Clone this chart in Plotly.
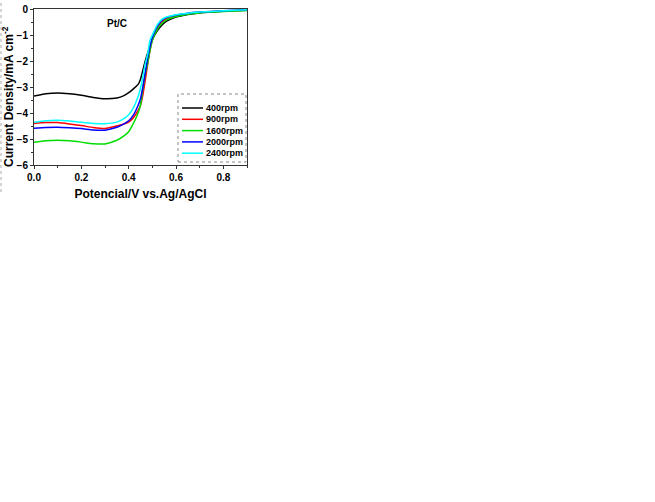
import plotly.graph_objects as go

# potential (V vs Ag/AgCl)
potential = [0.00, 0.05, 0.10, 0.15, 0.20, 0.25, 0.30, 0.35, 0.38, 0.40, 0.42, 0.44, 0.45,
             0.46, 0.47, 0.48, 0.49, 0.50, 0.52, 0.54, 0.56, 0.60, 0.65, 0.70, 0.80, 0.90]

# current density (mA cm-2) for each rotation speed
j_400 = [-3.35, -3.26, -3.23, -3.26, -3.32, -3.40, -3.45, -3.42, -3.33, -3.22, -3.07, -2.90, -2.70,
         -2.35, -2.00, -1.70, -1.42, -1.18, -0.85, -0.62, -0.47, -0.31, -0.21, -0.15, -0.09, -0.05]
j_900 = [-4.40, -4.37, -4.37, -4.42, -4.48, -4.56, -4.60, -4.50, -4.42, -4.35, -4.18, -3.90, -3.70,
         -3.30, -2.75, -2.15, -1.60, -1.20, -0.75, -0.50, -0.37, -0.26, -0.18, -0.13, -0.08, -0.04]
j_1600 = [-5.13, -5.07, -5.05, -5.07, -5.12, -5.18, -5.19, -5.05, -4.88, -4.72, -4.40, -4.00, -3.70,
          -3.05, -2.50, -2.10, -1.60, -1.20, -0.80, -0.56, -0.42, -0.29, -0.20, -0.15, -0.10, -0.06]
j_2000 = [-4.59, -4.56, -4.55, -4.57, -4.60, -4.65, -4.66, -4.55, -4.42, -4.30, -4.08, -3.70, -3.45,
          -3.00, -2.45, -1.90, -1.45, -1.10, -0.68, -0.44, -0.33, -0.23, -0.16, -0.12, -0.07, -0.03]
j_2400 = [-4.36, -4.30, -4.28, -4.31, -4.36, -4.40, -4.41, -4.35, -4.22, -4.07, -3.80, -3.37, -3.05,
          -2.60, -2.10, -1.75, -1.20, -1.00, -0.62, -0.40, -0.31, -0.22, -0.16, -0.12, -0.07, -0.03]

series = [("400rpm", j_400, "black"),
          ("900rpm", j_900, "red"),
          ("1600rpm", j_1600, "#00dd00"),
          ("2000rpm", j_2000, "blue"),
          ("2400rpm", j_2400, "cyan")]

fig = go.Figure()
for name, vals, color in series:
    fig.add_trace(go.Scatter(x=potential, y=vals, name=name, mode="lines", showlegend=False,
                             line=dict(color=color, width=1.5, shape="spline", smoothing=0.6)))

axis_font = dict(family="Arial", size=10, color="black", weight="bold")
title_font = dict(family="Arial", size=12, color="black", weight="bold")

fig.update_xaxes(range=[0, 0.9], dtick=0.2, tickformat=".1f", automargin=False,
                 showline=True, linecolor="#333", linewidth=1, mirror=True,
                 ticks="outside", ticklen=3, tickcolor="#333",
                 minor=dict(dtick=0.1, ticks="outside", ticklen=2, tickcolor="#333"),
                 showgrid=False, zeroline=False, tickfont=axis_font,
                 title=dict(text="Potencial/V vs.Ag/AgCl", font=title_font, standoff=7))
fig.update_yaxes(range=[-6, 0], dtick=1, automargin=False,
                 showline=True, linecolor="#333", linewidth=1, mirror=True,
                 ticks="outside", ticklen=3, tickcolor="#333",
                 minor=dict(dtick=0.5, ticks="outside", ticklen=2, tickcolor="#333"),
                 showgrid=False, zeroline=False, tickfont=axis_font)

plot_l, plot_t = 34, 9
plot_w, plot_h = 213.0, 156.0
plot_b = plot_t + plot_h

# y title as an annotation so it sits at the far left edge like the original
fig.add_annotation(text="Current Density/mA cm<sup>-2</sup>", textangle=-90,
                   xref="paper", yref="paper", x=(8 - plot_l) / plot_w, y=(plot_b - 97) / plot_h,
                   xanchor="center", yanchor="middle", showarrow=False, font=title_font)

fig.add_annotation(text="<b>Pt/C</b>", x=0.39, y=0.955, xref="paper", yref="paper",
                   showarrow=False, font=dict(family="Arial", size=10, color="black"))

# faint dotted edge of the pasted image on the far left
fig.add_shape(type="line", xref="paper", yref="paper",
              x0=(1 - plot_l) / plot_w, x1=(1 - plot_l) / plot_w,
              y0=(plot_b - 192) / plot_h, y1=plot_b / plot_h,
              line=dict(color="#aaa", width=1, dash="dot"))

# compact legend box (native legend rows are too tall for this small plot)
box_x0, box_x1 = (178 - plot_l) / plot_w, (246 - plot_l) / plot_w
box_y1, box_y0 = (plot_b - 94) / plot_h, (plot_b - 162) / plot_h
fig.add_shape(type="rect", xref="paper", yref="paper", x0=box_x0, x1=box_x1, y0=box_y0, y1=box_y1,
              line=dict(color="#888", width=1, dash="dot"), fillcolor="white", layer="above")
for i, (name, vals, color) in enumerate(series):
    yy = (plot_b - (108 + i * 11.3)) / plot_h
    fig.add_shape(type="line", xref="paper", yref="paper",
                  x0=(182 - plot_l) / plot_w, x1=(203 - plot_l) / plot_w, y0=yy, y1=yy,
                  line=dict(color=color, width=1.5), layer="above")
    fig.add_annotation(text="<b>" + name + "</b>", xref="paper", yref="paper",
                       x=(204 - plot_l) / plot_w, y=yy, xanchor="left", yanchor="middle",
                       showarrow=False, font=dict(family="Arial", size=9, color="black"))

fig.update_layout(
    width=655, height=502,
    margin=dict(l=plot_l, r=655 - plot_l - plot_w, t=plot_t, b=502 - plot_t - plot_h),
    paper_bgcolor="white", plot_bgcolor="white",
    showlegend=False,
)

# drop the default 8px page margin so the figure starts at the window corner
fig.write_html("out.html", config={"displayModeBar": False},
               post_script="document.body.style.margin='0';")
